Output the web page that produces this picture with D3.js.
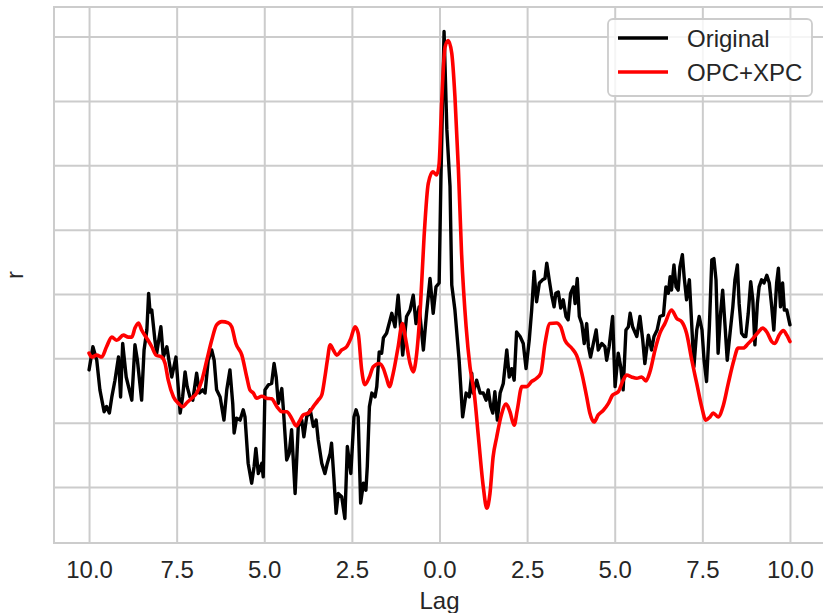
<!DOCTYPE html>
<html>
<head>
<meta charset="utf-8">
<script src="https://cdn.jsdelivr.net/npm/d3@7"></script>
<style>
  html, body { margin: 0; padding: 0; background: #ffffff; }
  svg { display: block; }
  text { font-family: "Liberation Sans", Arial, sans-serif; fill: #262626; }
</style>
</head>
<body>
<svg id="chart" width="823" height="613"></svg>
<script>
// Cross-correlation of the original signal against lag
const lagOriginal = [
  -10.00, -9.89, -9.78, -9.69, -9.57, -9.50, -9.42, -9.35, -9.26, -9.16,
  -9.10, -9.04, -8.94, -8.78, -8.69, -8.62, -8.50, -8.43, -8.35, -8.30,
  -8.26, -8.21, -8.12, -8.07, -7.95, -7.88, -7.78, -7.71, -7.64, -7.52,
  -7.40, -7.33, -7.26, -7.20, -7.12, -7.04, -6.93, -6.85, -6.76, -6.69,
  -6.60, -6.50, -6.43, -6.36, -6.26, -6.15, -6.07, -5.98, -5.90, -5.86,
  -5.79, -5.69, -5.60, -5.55, -5.46, -5.36, -5.29, -5.24, -5.17, -5.07,
  -5.03, -4.98, -4.88, -4.79, -4.72, -4.66, -4.60, -4.50, -4.46, -4.36,
  -4.29, -4.22, -4.12, -4.03, -3.93, -3.87, -3.79, -3.69, -3.60, -3.52,
  -3.46, -3.36, -3.27, -3.20, -3.12, -3.08, -3.01, -2.95, -2.89, -2.79,
  -2.70, -2.63, -2.53, -2.44, -2.38, -2.32, -2.25, -2.17, -2.10, -2.06,
  -2.00, -1.93, -1.84, -1.79, -1.72, -1.65, -1.60, -1.51, -1.36, -1.27,
  -1.18, -1.05, -0.94, -0.84, -0.75, -0.67, -0.58, -0.46, -0.37, -0.27,
  -0.18, -0.10, -0.01, 0.04, 0.13, 0.21, 0.30, 0.35, 0.44, 0.56,
  0.66, 0.76, 0.85, 0.92, 0.96, 1.06, 1.16, 1.25, 1.33, 1.39,
  1.46, 1.52, 1.58, 1.65, 1.73, 1.82, 1.92, 1.99, 2.06, 2.13,
  2.20, 2.30, 2.39, 2.47, 2.56, 2.63, 2.70, 2.77, 2.85, 2.94,
  3.01, 3.06, 3.13, 3.20, 3.27, 3.32, 3.39, 3.46, 3.53, 3.61,
  3.67, 3.74, 3.82, 3.87, 3.93, 3.99, 4.06, 4.13, 4.20, 4.25,
  4.31, 4.39, 4.47, 4.53, 4.63, 4.72, 4.77, 4.84, 4.94, 5.01,
  5.10, 5.17, 5.24, 5.32, 5.39, 5.44, 5.51, 5.63, 5.72, 5.80,
  5.86, 5.96, 6.05, 6.12, 6.21, 6.29, 6.39, 6.46, 6.53, 6.58,
  6.62, 6.69, 6.75, 6.81, 6.86, 6.93, 6.98, 7.05, 7.13, 7.20,
  7.26, 7.34, 7.41, 7.49, 7.55, 7.62, 7.70, 7.77, 7.83, 7.89,
  7.95, 8.02, 8.08, 8.15, 8.21, 8.29, 8.37, 8.43, 8.50, 8.55,
  8.62, 8.69, 8.74, 8.81, 8.88, 8.94, 9.00, 9.07, 9.12, 9.19,
  9.26, 9.34, 9.41, 9.48, 9.54, 9.62, 9.67, 9.73, 9.79, 9.84,
  9.91, 10.00
];
const rOriginal = [
  -0.018, 0.018, -0.003, -0.049, -0.083, -0.075, -0.085, -0.060, -0.034, 0.002,
  -0.060, 0.023, -0.029, -0.065, 0.021, -0.003, -0.065, 0.013, 0.044, 0.101,
  0.072, 0.075, 0.028, 0.008, 0.049, 0.002, 0.018, -0.007, -0.029, 0.002,
  -0.085, -0.060, -0.021, -0.044, -0.060, -0.065, -0.023, -0.054, -0.049, -0.054,
  -0.003, 0.013, -0.003, -0.049, -0.060, -0.096, -0.049, -0.018, -0.070, -0.116,
  -0.093, -0.096, -0.080, -0.091, -0.163, -0.194, -0.168, -0.140, -0.179, -0.163,
  -0.184, -0.049, -0.041, -0.039, -0.008, -0.029, -0.070, -0.047, -0.075, -0.158,
  -0.148, -0.111, -0.210, -0.106, -0.096, -0.122, -0.091, -0.080, -0.106, -0.096,
  -0.127, -0.163, -0.179, -0.163, -0.148, -0.132, -0.189, -0.241, -0.210, -0.215,
  -0.249, -0.137, -0.179, -0.091, -0.080, -0.091, -0.225, -0.194, -0.205, -0.168,
  -0.075, -0.054, -0.060, -0.044, 0.010, 0.008, 0.032, 0.039, 0.070, 0.049,
  0.098, 0.005, 0.065, 0.075, 0.098, 0.054, 0.080, 0.013, 0.070, 0.124,
  0.070, 0.111, 0.117, 0.277, 0.508, 0.355, 0.267, 0.114, 0.075, -0.003,
  -0.091, -0.054, -0.060, -0.023, -0.054, -0.034, -0.054, -0.054, -0.065, -0.049,
  -0.075, -0.085, -0.052, -0.096, -0.054, -0.039, 0.013, -0.029, -0.016, -0.034,
  0.041, 0.034, 0.023, -0.016, 0.028, 0.075, 0.135, 0.088, 0.117, 0.122,
  0.124, 0.148, 0.122, 0.098, 0.080, 0.101, 0.103, 0.078, 0.091, 0.065,
  0.060, 0.101, 0.111, 0.085, 0.124, 0.065, 0.054, 0.023, 0.054, 0.018,
  0.002, 0.023, 0.044, 0.013, 0.023, 0.018, -0.003, 0.018, 0.065, -0.044,
  0.008, -0.013, -0.049, 0.044, 0.049, 0.070, 0.049, 0.034, 0.065, 0.028,
  -0.008, 0.036, 0.013, 0.034, 0.044, 0.065, 0.067, 0.111, 0.101, 0.127,
  0.106, 0.145, 0.111, 0.106, 0.142, 0.161, 0.127, 0.091, 0.122, 0.049,
  -0.013, 0.044, 0.065, 0.044, -0.003, -0.036, 0.049, 0.153, 0.155, 0.122,
  0.008, 0.070, 0.106, 0.049, -0.003, 0.039, 0.080, 0.122, 0.145, 0.085,
  0.039, 0.034, 0.034, 0.070, 0.119, 0.091, 0.021, 0.085, 0.111, 0.122,
  0.117, 0.129, 0.117, 0.080, 0.044, 0.117, 0.140, 0.080, 0.117, 0.075,
  0.075, 0.052
];

// Cross-correlation after the OPC+XPC processing
const lagProcessed = [
  -10.00, -9.92, -9.78, -9.64, -9.50, -9.35, -9.21, -9.02, -8.88, -8.78,
  -8.69, -8.59, -8.50, -8.35, -8.21, -8.09, -7.93, -7.83, -7.74, -7.59,
  -7.45, -7.33, -7.21, -7.07, -6.93, -6.78, -6.64, -6.50, -6.36, -6.21,
  -6.03, -5.93, -5.81, -5.64, -5.50, -5.41, -5.31, -5.22, -5.07, -4.93,
  -4.79, -4.64, -4.50, -4.36, -4.22, -4.09, -3.98, -3.89, -3.74, -3.60,
  -3.46, -3.36, -3.27, -3.20, -3.12, -3.03, -2.93, -2.79, -2.65, -2.53,
  -2.41, -2.32, -2.22, -2.13, -2.00, -1.89, -1.72, -1.60, -1.51, -1.43,
  -1.32, -1.18, -1.06, -0.96, -0.84, -0.75, -0.65, -0.54, -0.44, -0.32,
  -0.19, -0.08, -0.01, 0.06, 0.16, 0.25, 0.35, 0.44, 0.54, 0.63,
  0.76, 0.87, 0.99, 1.11, 1.25, 1.35, 1.44, 1.53, 1.63, 1.77,
  1.90, 2.01, 2.13, 2.22, 2.35, 2.49, 2.63, 2.77, 2.89, 3.01,
  3.15, 3.34, 3.46, 3.58, 3.77, 3.91, 4.06, 4.20, 4.29, 4.41,
  4.53, 4.67, 4.82, 4.94, 5.10, 5.24, 5.34, 5.48, 5.63, 5.77,
  5.89, 6.01, 6.15, 6.29, 6.43, 6.62, 6.77, 6.91, 7.05, 7.20,
  7.34, 7.48, 7.60, 7.72, 7.81, 7.95, 8.10, 8.24, 8.40, 8.52,
  8.67, 8.81, 8.95, 9.10, 9.22, 9.34, 9.48, 9.57, 9.69, 9.81,
  9.91, 10.00
];
const rProcessed = [
  0.008, 0.002, 0.005, 0.002, 0.018, 0.033, 0.028, 0.036, 0.033, 0.033,
  0.047, 0.055, 0.044, 0.031, 0.018, 0.005, 0.002, -0.008, -0.034, -0.060,
  -0.070, -0.075, -0.069, -0.062, -0.054, -0.034, -0.003, 0.028, 0.052, 0.057,
  0.055, 0.049, 0.023, 0.005, -0.029, -0.049, -0.054, -0.062, -0.059, -0.062,
  -0.063, -0.075, -0.083, -0.083, -0.093, -0.105, -0.096, -0.088, -0.085, -0.075,
  -0.065, -0.057, -0.029, -0.003, 0.021, 0.013, 0.005, 0.013, 0.018, 0.031,
  0.049, 0.039, -0.018, -0.041, -0.029, -0.013, -0.008, -0.016, -0.031, -0.044,
  -0.023, 0.018, 0.054, 0.028, -0.008, -0.021, 0.008, 0.085, 0.189, 0.272,
  0.290, 0.285, 0.303, 0.396, 0.484, 0.494, 0.474, 0.407, 0.293, 0.163,
  0.049, -0.013, -0.054, -0.122, -0.200, -0.233, -0.210, -0.153, -0.123, -0.087,
  -0.071, -0.083, -0.104, -0.080, -0.044, -0.044, -0.036, -0.031, -0.023, 0.023,
  0.054, 0.055, 0.049, 0.028, 0.016, 0.005, -0.023, -0.060, -0.085, -0.099,
  -0.088, -0.081, -0.070, -0.057, -0.052, -0.034, -0.026, -0.029, -0.031, -0.029,
  -0.035, -0.020, 0.013, 0.039, 0.054, 0.075, 0.062, 0.057, 0.039, -0.003,
  -0.039, -0.075, -0.096, -0.091, -0.085, -0.091, -0.073, -0.039, -0.003, 0.016,
  0.016, 0.023, 0.031, 0.041, 0.047, 0.041, 0.026, 0.023, 0.036, 0.043,
  0.036, 0.026
];

const xTicks = [-10, -7.5, -5, -2.5, 0, 2.5, 5, 7.5, 10];
const yGridValues = [-0.2, -0.1, 0.0, 0.1, 0.2, 0.3, 0.4, 0.5];
const seriesNames = ["Original", "OPC+XPC"];
const seriesColors = ["#000000", "#ff0000"];

const svg = d3.select("#chart");
const W = 823, H = 613;
const plot = { left: 54, right: 825, top: 7, bottom: 543 };

svg.append("rect").attr("width", W).attr("height", H).attr("fill", "#ffffff");

const x = d3.scaleLinear().domain([-11, 11]).range([plot.left, plot.right]);
const y = d3.scaleLinear().domain([-0.287, 0.546]).range([plot.bottom, plot.top]);

const gridColor = "#cccccc";

// vertical grid
svg.append("g")
  .attr("transform", `translate(0,${plot.bottom})`)
  .call(d3.axisBottom(x).tickValues(xTicks).tickSize(-(plot.bottom - plot.top)).tickFormat(""))
  .call(g => g.select(".domain").remove())
  .call(g => g.selectAll("line").attr("stroke", gridColor).attr("stroke-width", 2));

// horizontal grid
svg.append("g")
  .attr("transform", `translate(${plot.left},0)`)
  .call(d3.axisLeft(y).tickValues(yGridValues).tickSize(-(plot.right - plot.left)).tickFormat(""))
  .call(g => g.select(".domain").remove())
  .call(g => g.selectAll("line").attr("stroke", gridColor).attr("stroke-width", 2));

// frame
svg.append("rect")
  .attr("x", plot.left).attr("y", plot.top)
  .attr("width", plot.right - plot.left).attr("height", plot.bottom - plot.top)
  .attr("fill", "none").attr("stroke", gridColor).attr("stroke-width", 2);

// x tick labels (absolute lag)
const xAxis = svg.append("g")
  .attr("transform", `translate(0,${plot.bottom})`)
  .call(d3.axisBottom(x).tickValues(xTicks).tickSize(0).tickPadding(18)
    .tickFormat(d => d3.format(".1f")(Math.abs(d))));
xAxis.select(".domain").remove();
xAxis.selectAll("text")
  .attr("font-family", "'Liberation Sans', Arial, sans-serif")
  .attr("font-size", 24)
  .attr("fill", "#262626");

// axis titles
svg.append("text")
  .attr("x", x(0)).attr("y", 609)
  .attr("text-anchor", "middle")
  .attr("font-size", 24)
  .text("Lag");

svg.append("text")
  .attr("transform", `translate(23,${(plot.top + plot.bottom) / 2}) rotate(-90)`)
  .attr("text-anchor", "middle")
  .attr("font-size", 24)
  .text("r");

// series
const lineOriginal = d3.line()
  .x((d, i) => x(lagOriginal[i]))
  .y(d => y(d));
const lineProcessed = d3.line()
  .x((d, i) => x(lagProcessed[i]))
  .y(d => y(d))
  .curve(d3.curveMonotoneX);

svg.append("path")
  .datum(rOriginal)
  .attr("d", lineOriginal)
  .attr("fill", "none")
  .attr("stroke", seriesColors[0])
  .attr("stroke-width", 3.4)
  .attr("stroke-linejoin", "round")
  .attr("stroke-linecap", "round");

svg.append("path")
  .datum(rProcessed)
  .attr("d", lineProcessed)
  .attr("fill", "none")
  .attr("stroke", seriesColors[1])
  .attr("stroke-width", 3.6)
  .attr("stroke-linejoin", "round")
  .attr("stroke-linecap", "round");

// legend
const legend = svg.append("g").attr("transform", "translate(608,19)");
legend.append("rect")
  .attr("width", 204).attr("height", 77).attr("rx", 5)
  .attr("fill", "#ffffff").attr("fill-opacity", 0.8)
  .attr("stroke", "#cccccc").attr("stroke-width", 1.8);
seriesNames.forEach((name, i) => {
  const cy = 19 + i * 34;
  legend.append("line")
    .attr("x1", 10).attr("x2", 60).attr("y1", cy).attr("y2", cy)
    .attr("stroke", seriesColors[i]).attr("stroke-width", 3.6);
  legend.append("text")
    .attr("x", 79).attr("y", cy + 8.5)
    .attr("font-size", 24)
    .text(name);
});
</script>
</body>
</html>
